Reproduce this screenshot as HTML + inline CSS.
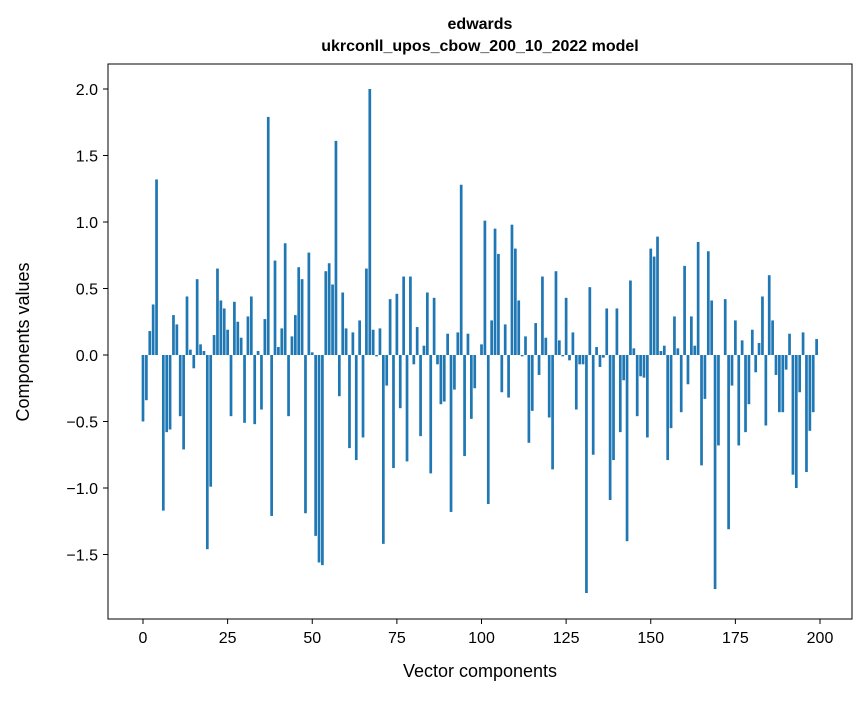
<!DOCTYPE html>
<html><head><meta charset="utf-8"><style>
body{margin:0;background:#fff;font-family:"Liberation Sans",sans-serif;}
svg text{font-family:"Liberation Sans",sans-serif;fill:#000;}
</style></head><body>
<svg id="chart" width="867" height="696" xmlns="http://www.w3.org/2000/svg">
<rect width="867" height="696" fill="#fff"/>
<text x="480" y="29" text-anchor="middle" font-size="16" font-weight="bold">edwards</text>
<text x="480" y="51" text-anchor="middle" font-size="16" font-weight="bold">ukrconll_upos_cbow_200_10_2022 model</text>
<g id="bars"></g>
<g id="xticks"></g>
<g id="yticks"></g>
<rect x="108" y="64" width="744" height="555" fill="none" stroke="#000" stroke-width="1"/>
<text x="480" y="677" text-anchor="middle" font-size="18">Vector components</text>
<text transform="translate(29,342) rotate(-90)" text-anchor="middle" font-size="18">Components values</text>
</svg>
<script>
const values = [-0.50,-0.34,0.18,0.38,1.32,0,-1.17,-0.58,-0.56,0.30,0.23,-0.46,-0.71,0.44,0.04,-0.10,0.57,0.08,0.03,-1.46,-0.99,0.15,0.65,0.41,0.35,
0.19,-0.46,0.40,0.25,0.13,-0.51,0.29,0.44,-0.52,0.03,-0.41,0.27,1.79,-1.21,0.71,0.06,0.20,0.84,-0.46,0.14,0.30,0.66,0.57,-1.19,0.77,
0.02,-1.36,-1.56,-1.58,0.63,0.69,0.53,1.61,-0.31,0.47,0.20,-0.70,0.17,-0.79,0.26,-0.62,0.65,2.00,0.19,-0.01,0.20,-1.42,-0.23,0.42,-0.85,
0.46,-0.40,0.59,-0.80,0.59,-0.07,0.21,-0.61,0.07,0.47,-0.89,0.43,-0.07,-0.37,-0.35,0.16,-1.18,-0.26,0.17,1.28,-0.76,0.16,-0.48,-0.25,0,
0.08,1.01,-1.12,0.26,0.95,0.76,-0.28,0.23,-0.32,0.98,0.80,0.41,-0.01,0.14,-0.66,-0.42,0.24,-0.15,0.59,0.13,-0.47,-0.86,0.63,0.11,-0.01,
0.43,-0.04,0.17,-0.41,-0.07,-0.07,-1.79,0.51,-0.75,0.06,-0.09,-0.02,0.35,-1.09,-0.79,0.35,-0.58,-0.19,-1.40,0.56,0.05,-0.46,-0.16,-0.17,-0.62,
0.80,0.74,0.89,0.03,0.07,-0.79,-0.55,0.29,0.05,-0.43,0.67,-0.22,0.29,0.07,0.85,-0.83,-0.33,0.78,0.41,-1.76,-0.68,0,0.42,-1.31,-0.23,
0.26,-0.68,0.11,-0.58,-0.37,0.19,-0.13,0.09,0.44,-0.53,0.60,0.26,-0.15,-0.43,-0.43,-0.11,0.16,-0.90,-1.00,-0.28,0.17,-0.88,-0.57,-0.43,0.12];
const xTicks = [0,25,50,75,100,125,150,175,200];
const yTicks = [-1.5,-1.0,-0.5,0.0,0.5,1.0,1.5,2.0];
const yTickLabels = ["\u22121.5","\u22121.0","\u22120.5","0.0","0.5","1.0","1.5","2.0"];

const NS="http://www.w3.org/2000/svg";
const xScale = v => 143 + v*3.385;
const yScale = v => 355 - v*133;
const bw = 0.8*3.385;
const gb=document.getElementById('bars');
values.forEach((v,i)=>{
  const r=document.createElementNS(NS,'rect');
  const y0=yScale(0), y1=yScale(v);
  r.setAttribute('x',xScale(i)-bw/2);
  r.setAttribute('y',Math.min(y0,y1));
  r.setAttribute('width',bw);
  r.setAttribute('height',Math.max(Math.abs(y1-y0),0.01));
  r.setAttribute('fill','#1f77b4');
  
  
  gb.appendChild(r);
});
const gx=document.getElementById('xticks');
xTicks.forEach(t=>{
  const l=document.createElementNS(NS,'line');
  l.setAttribute('x1',xScale(t));l.setAttribute('x2',xScale(t));
  l.setAttribute('y1',619);l.setAttribute('y2',624);l.setAttribute('stroke','#000');
  
  
  gx.appendChild(l);
  const tx=document.createElementNS(NS,'text');
  tx.setAttribute('x',xScale(t));tx.setAttribute('y',643);
  tx.setAttribute('text-anchor','middle');tx.setAttribute('font-size','16');
  tx.textContent=t;
  
  
  gx.appendChild(tx);
});
const gy=document.getElementById('yticks');
yTicks.forEach((t,i)=>{
  const l=document.createElementNS(NS,'line');
  l.setAttribute('x1',103);l.setAttribute('x2',108);
  l.setAttribute('y1',yScale(t));l.setAttribute('y2',yScale(t));l.setAttribute('stroke','#000');
  
  
  gy.appendChild(l);
  const tx=document.createElementNS(NS,'text');
  tx.setAttribute('x',98);tx.setAttribute('y',yScale(t)+6);
  tx.setAttribute('text-anchor','end');tx.setAttribute('font-size','16');
  tx.textContent=yTickLabels[i];
  
  
  gy.appendChild(tx);
});
</script>
</body></html>
